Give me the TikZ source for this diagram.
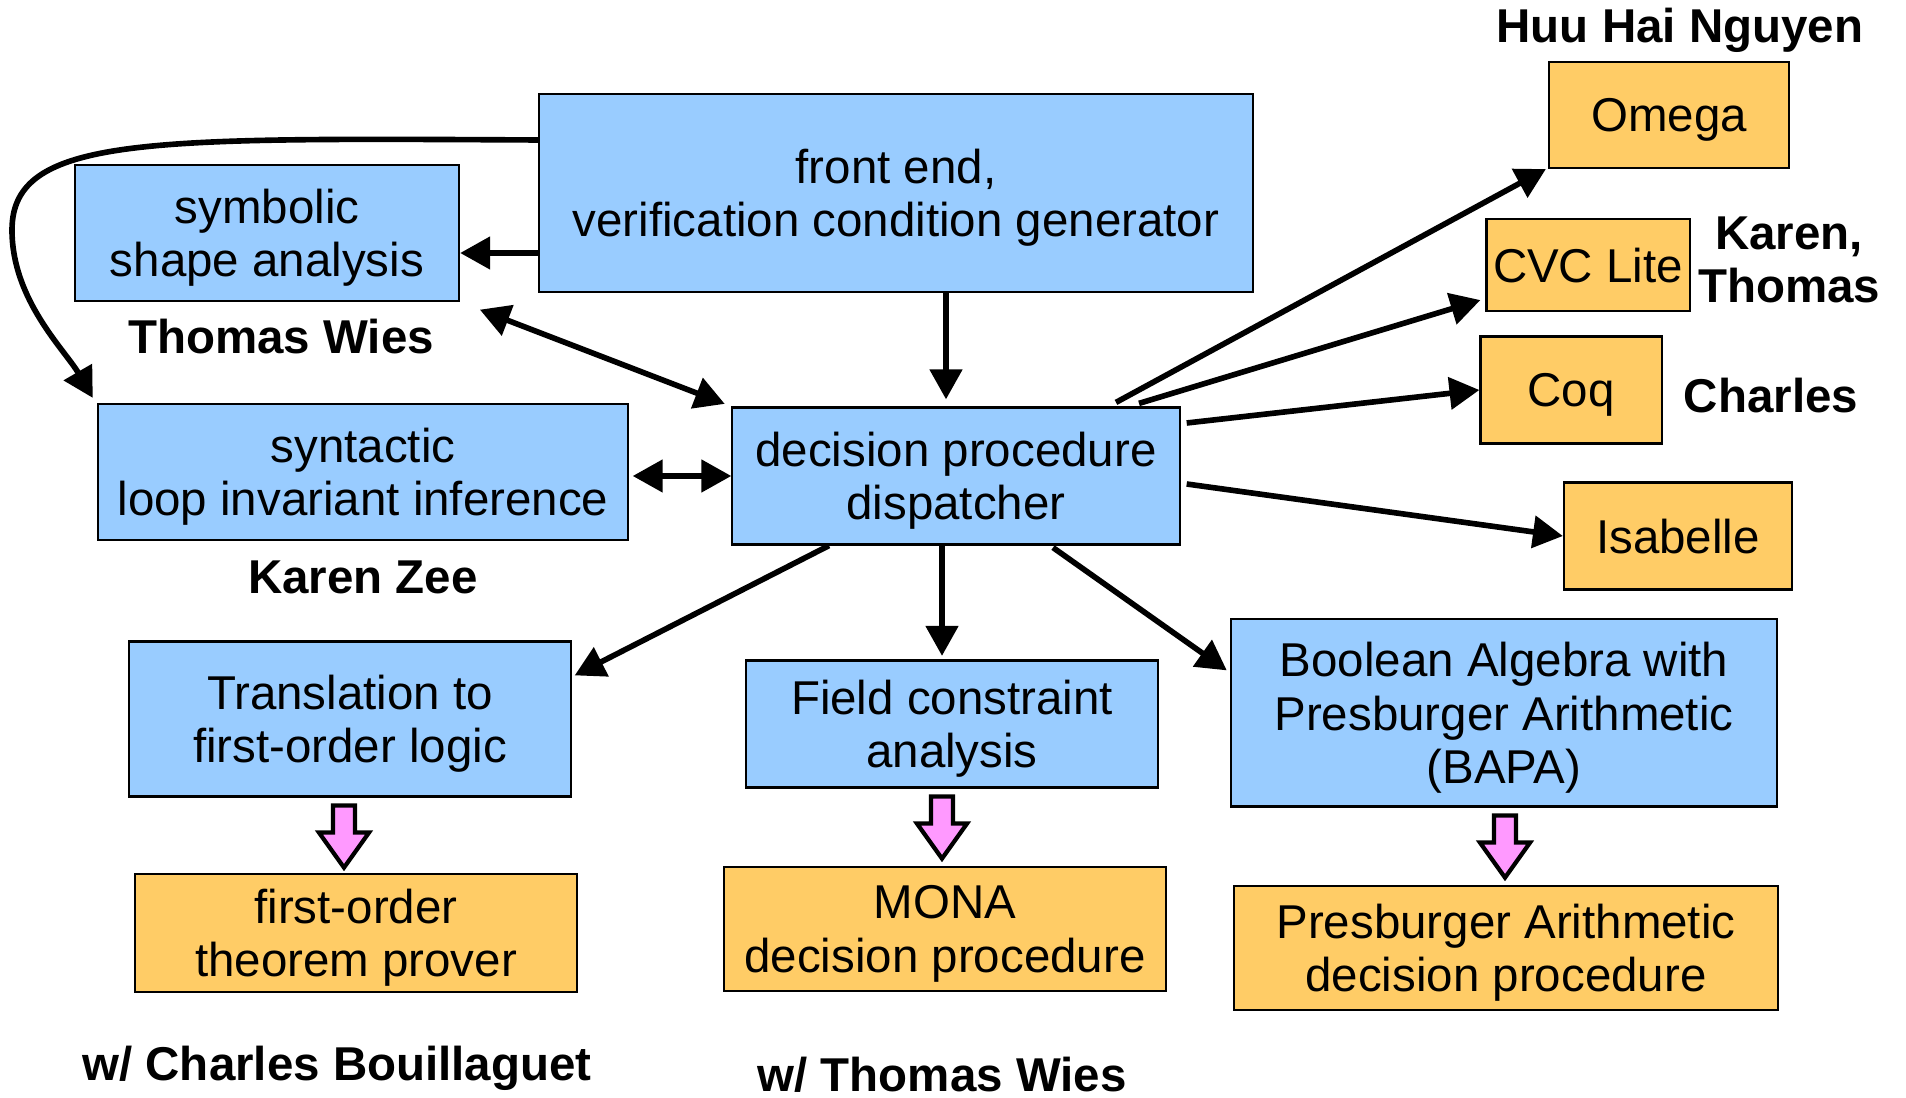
\documentclass[tikz,border=0pt]{standalone}
\usepackage{fontspec}
\setmainfont{Liberation Sans}
\usetikzlibrary{arrows.meta,calc}
\definecolor{boxblue}{HTML}{99CCFF}
\definecolor{boxorange}{HTML}{FFCC66}
\definecolor{arrowpink}{HTML}{FF99FF}
\begin{document}
\begin{tikzpicture}[x=0.01cm, y=-0.01cm,
    every node/.style={font=\fontsize{13.5}{15.2}\selectfont, align=center, inner sep=0pt},
    module/.style={draw, line width=0.6pt, fill=boxblue, text depth=0pt},
    prover/.style={draw, line width=0.6pt, fill=boxorange, text depth=0pt},
    who/.style={font=\fontsize{13.5}{15.2}\selectfont\bfseries},
    arr/.style={line width=1.6pt, -{Triangle[length=8.5pt,width=9pt]}},
    darr/.style={line width=1.6pt, {Triangle[length=8.5pt,width=9pt]}-{Triangle[length=8.5pt,width=9pt]}}]
    \useasboundingbox (0,0) rectangle (1906,1098);

    % analyses
    \node[module, minimum width=7.13cm, minimum height=1.98cm] (front) at (896,193) {front end,\\verification condition generator};
    \node[module, minimum width=3.84cm, minimum height=1.36cm] (sym) at (267,233) {symbolic\\shape analysis};
    \node[module, minimum width=5.30cm, minimum height=1.36cm] (syn) at (363,472) {syntactic\\loop invariant inference};
    \node[module, minimum width=4.47cm, minimum height=1.37cm] (disp) at (956,476) {decision procedure\\dispatcher};
    \node[module, minimum width=4.41cm, minimum height=1.55cm] (trans) at (350,719) {Translation to\\first-order logic};
    \node[module, minimum width=4.12cm, minimum height=1.27cm] (field) at (952,724) {Field constraint\\analysis};
    \node[module, minimum width=5.46cm, minimum height=1.87cm] (bapa) at (1504,713) {Boolean Algebra with\\Presburger Arithmetic\\(BAPA)};

    % provers
    \node[prover, minimum width=4.41cm, minimum height=1.18cm] (fotp) at (356,933) {first-order\\theorem prover};
    \node[prover, minimum width=4.42cm, minimum height=1.24cm] (mona) at (945,929) {MONA\\decision procedure};
    \node[prover, minimum width=5.44cm, minimum height=1.24cm] (pres) at (1506,948) {Presburger Arithmetic\\decision procedure};
    \node[prover, minimum width=2.40cm, minimum height=1.06cm] (omega) at (1669,115) {Omega};
    \node[prover, minimum width=2.03cm, minimum height=0.92cm] (cvc) at (1588,265) {CVC Lite};
    \node[prover, minimum width=1.81cm, minimum height=1.07cm] (coq) at (1571,390) {Coq};
    \node[prover, minimum width=2.28cm, minimum height=1.07cm] (isa) at (1678,536) {Isabelle};

    % people
    \node[who] (lsym) at (281,337) {Thomas Wies};
    \node[who] (lsyn) at (363,577) {Karen Zee};
    \node[who] (ltrans) at (337,1068) {w/ Charles Bouillaguet};
    \node[who] (lfield) at (942,1075) {w/ Thomas Wies};
    \node[who] (lomega) at (1680,30) {Huu Hai Nguyen};
    \node[who] (lcvc) at (1789,260) {Karen,\\Thomas};
    \node[who] (lcoq) at (1771,396) {Charles};

    % front end
    \coordinate (fw) at ($(front.west)+(0,60)$);
    \draw[arr] (fw) -- (fw -| sym.east);
    \draw[arr] ($(front.west)+(0,-53)$) .. controls (150,138) and (12,135) .. (12,230)
        .. controls (12,300) and (65,350) .. ($(syn.north west)+(-4,-5)$);
    \coordinate (fs) at ($(front.south)+(50,0)$);
    \draw[arr, shorten >=2pt] (fs) -- (fs |- disp.north);

    % dispatcher
    \draw[darr, shorten <=6pt, shorten >=2pt] (sym.south east) -- (disp.north west);
    \draw[darr, shorten <=1pt] (syn.east |- disp.west) -- (disp.west);
    \draw[arr] ($(disp.south)+(-127,0)$) -- ($(trans.north east)+(3,35)$);
    \coordinate (ds) at ($(disp.south)+(-14,0)$);
    \draw[arr, shorten >=1pt] (ds) -- (ds |- field.north);
    \draw[arr] ($(disp.south)+(97,2)$) -- ($(bapa.north west)+(-3,52)$);
    \draw[arr] ($(disp.north)+(160,-4)$) -- ($(omega.south west)+(-2,0)$);
    \draw[arr] ($(disp.north)+(183,-3)$) -- ($(cvc.south west)+(-5,-12)$);
    \draw[arr] ($(disp.east)+(6,-53)$) -- (coq.west);
    \draw[arr] ($(disp.east)+(6,8)$) -- (isa.west);

    % to the provers
    \foreach \a/\dx in {trans/-6, field/-10, bapa/1}
        \draw[line width=1.2pt, line join=miter, fill=arrowpink] ($(\a.south)+(\dx-11,8)$)
            -- ++(22,0) -- ++(0,27) -- ++(14,0) -- ++(-25,35) -- ++(-25,-35) -- ++(14,0) -- cycle;
\end{tikzpicture}
\end{document}
